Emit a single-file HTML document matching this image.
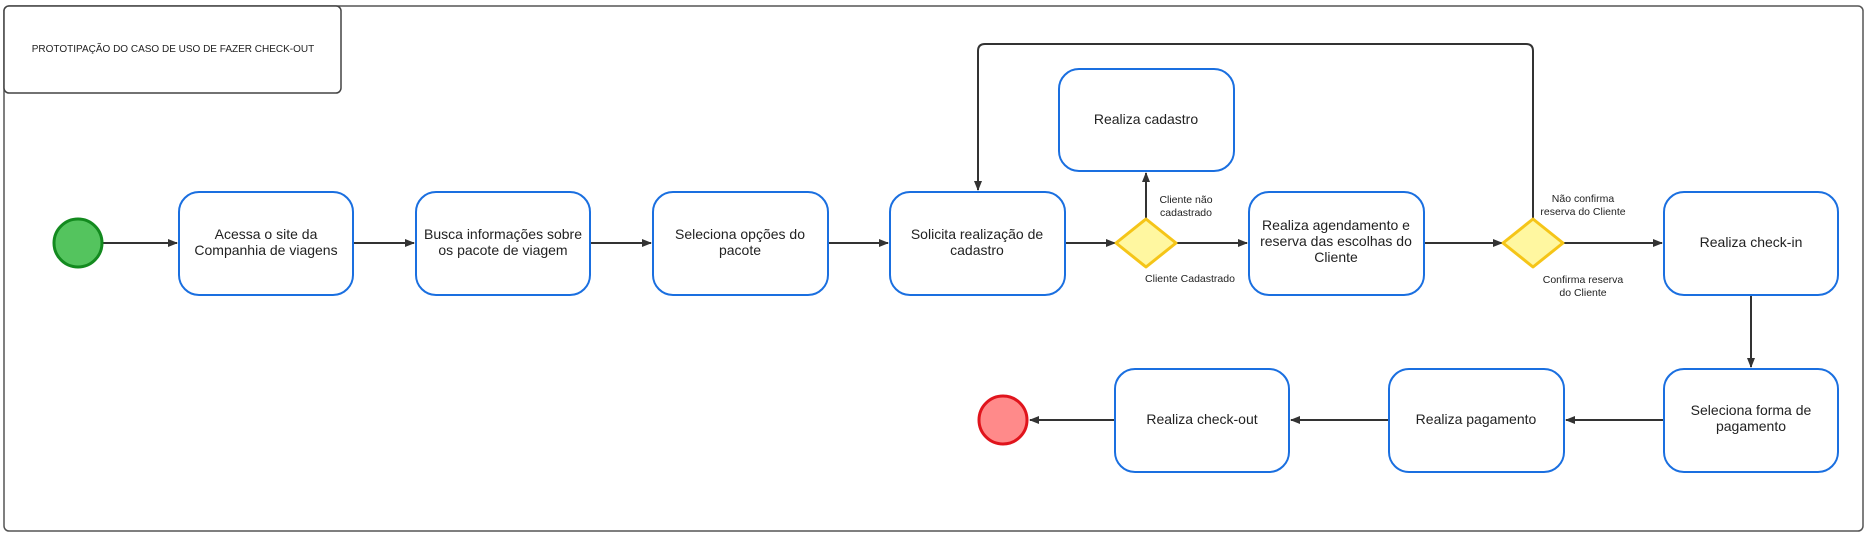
<!DOCTYPE html>
<html><head><meta charset="utf-8"><style>
body{margin:0;background:#fff}
svg text{font-family:"Liberation Sans",sans-serif;fill:#222}
</style></head><body>
<svg width="1867" height="537" viewBox="0 0 1867 537" xmlns="http://www.w3.org/2000/svg">
<defs><marker id="a" markerWidth="10" markerHeight="8" refX="9" refY="4" orient="auto" markerUnits="userSpaceOnUse"><path d="M0,0 L10,4 L0,8z" fill="#333"/></marker></defs>
<rect x="4" y="6" width="1859" height="525" rx="5" fill="#fff" stroke="#555" stroke-width="1.5"/>
<rect x="4" y="6" width="337" height="87" rx="5" fill="#fff" stroke="#444" stroke-width="1.5"/>
<text x="173" y="52" font-size="10" text-anchor="middle" fill="#333">PROTOTIPAÇÃO DO CASO DE USO DE FAZER CHECK-OUT</text>
<g stroke="#333" stroke-width="2" fill="none" marker-end="url(#a)">
<line x1="103" y1="243" x2="177" y2="243"/>
<line x1="353" y1="243" x2="414" y2="243"/>
<line x1="590" y1="243" x2="651" y2="243"/>
<line x1="828" y1="243" x2="888" y2="243"/>
<line x1="1065" y1="243" x2="1115" y2="243"/>
<line x1="1176" y1="243" x2="1247" y2="243"/>
<line x1="1146" y1="218" x2="1146" y2="173"/>
<line x1="1424" y1="243" x2="1502" y2="243"/>
<line x1="1563" y1="243" x2="1662" y2="243"/>
<path d="M1533 218 V51 Q1533 44 1526 44 H985 Q978 44 978 51 V190"/>
<line x1="1751" y1="295" x2="1751" y2="367"/>
<line x1="1664" y1="420" x2="1566" y2="420"/>
<line x1="1389" y1="420" x2="1291" y2="420"/>
<line x1="1115" y1="420" x2="1030" y2="420"/>
</g>
<circle cx="78" cy="243" r="24" fill="#54c45e" stroke="#138a1f" stroke-width="3"/>
<circle cx="1003" cy="420" r="24" fill="#ff8a8a" stroke="#e0141c" stroke-width="3"/>
<g fill="#fff" stroke="#1a6fe0" stroke-width="2">
<rect x="179" y="192" width="174" height="103" rx="20"/>
<rect x="416" y="192" width="174" height="103" rx="20"/>
<rect x="653" y="192" width="175" height="103" rx="20"/>
<rect x="890" y="192" width="175" height="103" rx="20"/>
<rect x="1059" y="69" width="175" height="102" rx="20"/>
<rect x="1249" y="192" width="175" height="103" rx="20"/>
<rect x="1664" y="192" width="174" height="103" rx="20"/>
<rect x="1664" y="369" width="174" height="103" rx="20"/>
<rect x="1389" y="369" width="175" height="103" rx="20"/>
<rect x="1115" y="369" width="174" height="103" rx="20"/>
</g>
<g fill="#fff7a0" stroke="#f5c518" stroke-width="3" stroke-linejoin="round">
<path d="M1146 219 L1176 243 L1146 267 L1116 243z"/>
<path d="M1533 219 L1563 243 L1533 267 L1503 243z"/>
</g>
<g font-size="14" text-anchor="middle">
<text x="266" y="239">Acessa o site da</text><text x="266" y="255">Companhia de viagens</text>
<text x="503" y="239">Busca informações sobre</text><text x="503" y="255">os pacote de viagem</text>
<text x="740" y="239">Seleciona opções do</text><text x="740" y="255">pacote</text>
<text x="977" y="239">Solicita realização de</text><text x="977" y="255">cadastro</text>
<text x="1146" y="124">Realiza cadastro</text>
<text x="1336" y="230">Realiza agendamento e</text><text x="1336" y="246">reserva das escolhas do</text><text x="1336" y="262">Cliente</text>
<text x="1751" y="247">Realiza check-in</text>
<text x="1751" y="415">Seleciona forma de</text><text x="1751" y="431">pagamento</text>
<text x="1476" y="424">Realiza pagamento</text>
<text x="1202" y="424">Realiza check-out</text>
</g>
<g font-size="10.5" text-anchor="middle">
<text x="1186" y="203">Cliente não</text><text x="1186" y="216">cadastrado</text>
<text x="1190" y="282">Cliente Cadastrado</text>
<text x="1583" y="202">Não confirma</text><text x="1583" y="215">reserva do Cliente</text>
<text x="1583" y="283">Confirma reserva</text><text x="1583" y="296">do Cliente</text>
</g>
</svg>
</body></html>
